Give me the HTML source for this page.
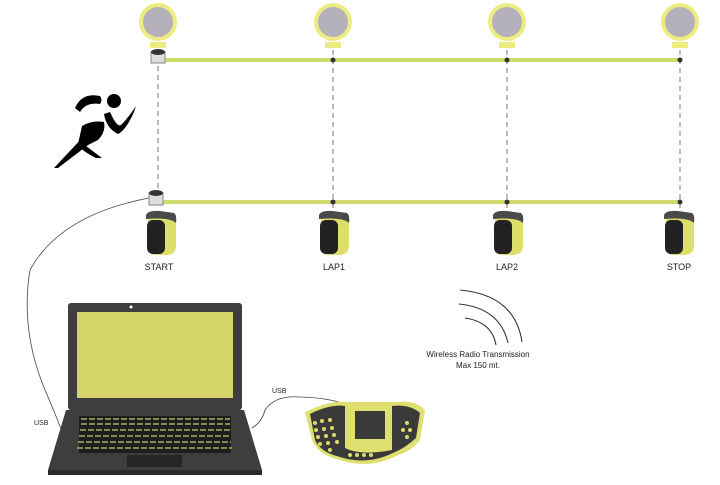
<!DOCTYPE html>
<html><head><meta charset="utf-8"><style>body{margin:0;background:#fff}svg{display:block}text{font-family:"Liberation Sans",sans-serif;fill:#222}</style></head><body>
<svg width="720" height="485" viewBox="0 0 720 485">
<defs>
<g id="refl"><circle r="19" fill="#ecec80"/><circle r="15" fill="#b4b1bb"/><rect x="-8" y="20" width="16" height="6" fill="#ecec80"/></g>
<g id="sens"><path d="M-12,8 Q-12,2 -4,2 L12,4 Q16,6 16,14 L16,34 Q16,44 6,44 L-4,44 Q-12,44 -12,36Z" fill="#dede6a"/><path d="M-14,4 Q-12,-1 0,0 L14,2 Q17,4 16,12 Q10,6 -14,8Z" fill="#4a4a4a"/><rect x="-13" y="9" width="18" height="34" rx="6" fill="#222"/></g>
</defs>
<g stroke="#777" stroke-width="1" stroke-dasharray="5,4">
<line x1="158" y1="66" x2="158" y2="192"/><line x1="333" y1="50" x2="333" y2="215"/><line x1="507" y1="50" x2="507" y2="215"/><line x1="680" y1="50" x2="680" y2="215"/>
</g>
<use href="#refl" x="158" y="22"/><use href="#refl" x="333" y="22"/><use href="#refl" x="507" y="22"/><use href="#refl" x="680" y="22"/>
<rect x="160" y="58" width="520" height="4" fill="#cfdc6a"/>
<rect x="160" y="200" width="520" height="4" fill="#cfdc6a"/>
<g fill="#333"><circle cx="333" cy="60" r="2.5"/><circle cx="507" cy="60" r="2.5"/><circle cx="680" cy="60" r="2.5"/><circle cx="333" cy="202" r="2.5"/><circle cx="507" cy="202" r="2.5"/><circle cx="680" cy="202" r="2.5"/></g>
<g><rect x="151" y="52" width="14" height="11" fill="#ddd" stroke="#888"/><ellipse cx="158" cy="52" rx="7" ry="3" fill="#333"/>
<rect x="149" y="193" width="14" height="12" fill="#ddd" stroke="#888"/><ellipse cx="156" cy="193" rx="7" ry="3" fill="#333"/></g>
<use href="#sens" x="160" y="211"/><use href="#sens" x="333" y="211"/><use href="#sens" x="507" y="211"/><use href="#sens" x="678" y="211"/>
<g font-size="9" text-anchor="middle"><text x="159" y="270">START</text><text x="334" y="270">LAP1</text><text x="507" y="270">LAP2</text><text x="679" y="270">STOP</text></g>
<!-- runner -->
<g fill="#000">
<circle cx="114" cy="101" r="7"/>
<path d="M75,108 Q82,92 100,96 Q103,100 100,104 Q86,102 80,112Z"/>
<path d="M110,112 Q118,130 122,124 Q128,118 136,106 L134,112 Q126,130 118,134 Q106,128 104,114Z"/>
<path d="M82,126 Q92,120 104,122 Q106,132 98,140 L86,146 L102,158 L96,158 Q80,150 78,144Z"/>
<path d="M84,136 L54,168 L58,168 L92,142Z"/>
</g>
<!-- wires -->
<path d="M149,198 Q60,215 30,270 Q20,330 45,390 Q58,420 62,432" fill="none" stroke="#444" stroke-width="0.8"/>
<path d="M252,428 Q262,422 265,410 Q275,395 300,397 Q340,398 355,410" fill="none" stroke="#444" stroke-width="0.8"/>
<text x="34" y="425" font-size="7">USB</text><text x="272" y="393" font-size="7">USB</text>
<!-- laptop -->
<rect x="68" y="303" width="174" height="107" rx="3" fill="#3e3e3e"/>
<rect x="77" y="312" width="156" height="86" fill="#d4d468"/>
<circle cx="131" cy="307" r="1.5" fill="#fff"/>
<path d="M66,410 L244,410 L262,470 L48,470Z" fill="#3e3e3e"/>
<rect x="48" y="470" width="214" height="5" fill="#2a2a2a"/>
<g fill="#1e1e1e"><rect x="79" y="416" width="152" height="37"/></g>
<g stroke="#c8c870" stroke-width="1.3" stroke-dasharray="6,2">
<line x1="81" y1="419" x2="230" y2="419"/><line x1="81" y1="424" x2="230" y2="424"/><line x1="80" y1="430" x2="230" y2="430"/><line x1="79" y1="436" x2="230" y2="436"/><line x1="78" y1="442" x2="231" y2="442"/><line x1="77" y1="448" x2="232" y2="448"/>
</g>
<rect x="127" y="455" width="55" height="12" fill="#252525"/>
<!-- keypad -->
<path d="M305,412 Q330,400 345,402 L400,402 Q415,400 425,410 L420,440 Q410,452 398,455 Q370,470 340,460 Q318,455 312,440Z" fill="#e0e070"/>
<path d="M310,414 Q330,404 345,406 L345,448 Q360,456 392,450 L392,406 Q410,404 420,413 L416,438 Q405,448 395,452 Q368,466 340,457 Q320,452 315,440Z" fill="#3a3a3a"/>
<rect x="349" y="406" width="42" height="40" fill="#e0e070"/><rect x="355" y="411" width="30" height="28" fill="#3a3a3a"/>
<g fill="#dcdc6a"><circle cx="315" cy="423" r="2"/><circle cx="322" cy="421" r="2"/><circle cx="330" cy="420" r="2"/><circle cx="316" cy="430" r="2"/><circle cx="324" cy="429" r="2"/><circle cx="332" cy="428" r="2"/><circle cx="318" cy="437" r="2"/><circle cx="326" cy="436" r="2"/><circle cx="334" cy="435" r="2"/><circle cx="320" cy="444" r="2"/><circle cx="328" cy="443" r="2"/><circle cx="337" cy="442" r="2"/><circle cx="330" cy="450" r="2"/><circle cx="350" cy="455" r="2"/><circle cx="357" cy="455" r="2"/><circle cx="364" cy="455" r="2"/><circle cx="371" cy="455" r="2"/><circle cx="407" cy="423" r="2"/><circle cx="403" cy="430" r="2"/><circle cx="410" cy="430" r="2"/><circle cx="407" cy="437" r="2"/></g>
<!-- arcs -->
<g fill="none" stroke="#333" stroke-width="1.1">
<path d="M465,318 Q492,322 496,345"/><path d="M459,304 Q500,308 508,343"/><path d="M460,290 Q515,295 522,342"/>
</g>
<text x="478" y="357" font-size="8" text-anchor="middle">Wireless Radio Transmission</text>
<text x="478" y="368" font-size="8" text-anchor="middle">Max 150 mt.</text>
</svg>
</body></html>
